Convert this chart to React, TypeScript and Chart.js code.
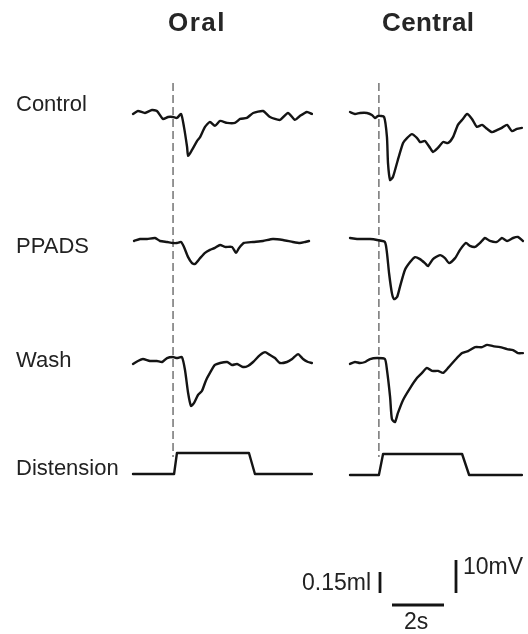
import React, { useEffect, useRef } from "react";
import { Chart, registerables } from "chart.js";

Chart.register(...registerables);

// ---- Data (time in s, potential in mV, volume in ml) ----
const oralControl: [number, number][] = [
  [0, -0.6], [0.19, 0.3], [0.46, -0.3], [0.73, 0.6], [0.92, 0.3], [1.15, -2.1], [1.35, -1.5], [1.54, -1.5],
  [1.69, -1.8], [1.85, -0.6], [1.96, -4.5], [2.08, -10.6], [2.12, -13.3], [2.27, -11.5], [2.46, -8.8],
  [2.58, -7.6], [2.77, -4.5], [2.96, -3.0], [3.15, -4.2], [3.35, -2.7], [3.62, -3.3], [3.92, -3.3],
  [4.12, -2.1], [4.38, -1.8], [4.62, -0.3], [5.0, 0.3], [5.27, -1.5], [5.65, -2.4], [5.96, -0.3],
  [6.23, -2.4], [6.42, -1.2], [6.69, 0], [6.88, -0.6],
];
const centralControl: [number, number][] = [
  [0.04, 0.3], [0.23, -0.3], [0.42, 0], [0.69, 0], [0.88, -0.6], [1.0, -1.5], [1.12, -0.9], [1.35, -1.2],
  [1.46, -7.3], [1.5, -15.2], [1.58, -20.3], [1.69, -19.4], [1.88, -14.2], [2.08, -9.1], [2.23, -7.6],
  [2.42, -6.4], [2.62, -7.6], [2.73, -8.8], [2.92, -8.5], [3.12, -10.6], [3.23, -11.8], [3.42, -10.6],
  [3.62, -8.8], [3.81, -9.1], [4.0, -7.3], [4.19, -3.6], [4.38, -1.8], [4.54, -0.3], [4.73, -1.8],
  [4.92, -4.2], [5.12, -3.6], [5.31, -4.8], [5.5, -5.8], [5.69, -5.2], [5.88, -4.5], [6.08, -3.6],
  [6.27, -5.5], [6.46, -4.8], [6.65, -4.5],
];
const oralPPADS: [number, number][] = [
  [0.04, -0.3], [0.27, 0.3], [0.54, 0.3], [0.85, 0.6], [1.04, -0.3], [1.31, -0.6], [1.54, -0.9], [1.69, -0.9],
  [1.85, -0.6], [1.96, -2.1], [2.12, -5.2], [2.27, -7.0], [2.38, -7.3], [2.58, -5.5], [2.77, -3.9],
  [2.96, -3.0], [3.15, -2.4], [3.35, -1.5], [3.54, -2.1], [3.81, -2.1], [3.96, -3.9], [4.08, -2.4],
  [4.27, -0.9], [4.62, -0.6], [5.0, -0.3], [5.38, 0.3], [5.77, 0], [6.15, -0.6], [6.42, -0.9],
  [6.62, -0.6], [6.77, -0.3],
];
const centralPPADS: [number, number][] = [
  [0.04, 0], [0.31, -0.3], [0.54, -0.3], [0.81, -0.3], [1.08, -0.6], [1.38, -1.2], [1.46, -4.5],
  [1.54, -10.6], [1.65, -16.7], [1.73, -18.5], [1.85, -17.9], [1.96, -14.8], [2.15, -9.7], [2.35, -7.3],
  [2.54, -5.8], [2.73, -6.4], [2.92, -7.6], [3.04, -8.5], [3.23, -6.4], [3.5, -5.2], [3.69, -6.1],
  [3.85, -7.6], [4.08, -6.1], [4.27, -3.6], [4.5, -1.5], [4.65, -2.4], [4.85, -2.7], [5.04, -1.5],
  [5.23, 0], [5.42, -0.9], [5.69, -1.2], [5.88, 0], [6.08, -0.9], [6.31, 0], [6.5, 0.3], [6.69, -0.9],
];
const oralWash: [number, number][] = [
  [0, -0.6], [0.19, 0.3], [0.38, 0.9], [0.65, 0.3], [0.92, 0.3], [1.12, 0], [1.31, 1.2], [1.54, 1.5],
  [1.69, 1.2], [1.88, 1.5], [2.0, -2.4], [2.12, -9.4], [2.23, -13.3], [2.35, -12.4], [2.5, -10.0],
  [2.65, -8.8], [2.81, -5.5], [2.96, -3.3], [3.15, -0.9], [3.35, -0.3], [3.62, 0], [3.81, -0.9],
  [4.0, -0.6], [4.23, -1.5], [4.42, -1.2], [4.62, 0], [4.88, 2.1], [5.08, 3.0], [5.27, 2.1],
  [5.46, 1.2], [5.65, -0.3], [5.92, 0], [6.12, 0.9], [6.35, 2.4], [6.54, 0.9], [6.73, 0], [6.88, -0.3],
];
const centralWash: [number, number][] = [
  [0.04, -0.6], [0.23, 0], [0.42, -0.3], [0.62, 0], [0.81, 0.9], [1.08, 1.2], [1.38, 0.9], [1.46, -2.4],
  [1.58, -10.6], [1.65, -17.3], [1.77, -18.2], [1.88, -15.5], [2.08, -11.5], [2.35, -7.9], [2.62, -4.8],
  [2.81, -3.3], [3.0, -1.8], [3.19, -2.7], [3.42, -2.7], [3.62, -3.3], [3.81, -1.8], [4.08, 0.6],
  [4.35, 2.7], [4.58, 3.3], [4.85, 4.5], [5.12, 4.5], [5.31, 5.2], [5.54, 4.8], [5.81, 4.5],
  [6.08, 3.9], [6.31, 3.6], [6.5, 2.7], [6.69, 2.7],
];
const oralDistension: [number, number][] = [
  [0, 0], [1.58, 0], [1.69, 0.15], [4.46, 0.15], [4.69, 0], [6.88, 0],
];
const centralDistension: [number, number][] = [
  [0.04, 0], [1.15, 0], [1.31, 0.15], [4.35, 0.15], [4.62, 0], [6.65, 0],
];
const stimulusOnset = [1.54, 1.15]; // s, Oral, Central

const columnTitles = ["Oral", "Central"];
const rowLabels = ["Control", "PPADS", "Wash", "Distension"];
const scaleTimeS = 2;
const scaleMV = 10;
const scaleML = 0.15;
const scaleLabels = ["0.15ml", "10mV", "2s"];

// ---- Layout (pixels) ----
const W = 528;
const H = 634;
const PX_PER_S = 26;
const PX_PER_MV = 3.3;
const PX_PER_ML = 140;
const colX0 = [133, 349];
const rowBase = [
  [112, 113],
  [240, 238],
  [362, 362],
  [474, 475],
];

const ink = "#141414";

function traceSet(pts: [number, number][], x0: number, base: number, k: number, tension: number) {
  return {
    data: pts.map(([t, v]) => ({ x: x0 + t * PX_PER_S, y: base - v * k })),
    borderColor: ink,
    borderWidth: 2.4,
    pointRadius: 0,
    showLine: true,
    tension,
    fill: false,
    borderJoinStyle: "round",
    borderCapStyle: "round",
  };
}

export default function App() {
  const ref = useRef<HTMLCanvasElement | null>(null);

  useEffect(() => {
    if (!ref.current) return;
    const traces = [
      [oralControl, centralControl],
      [oralPPADS, centralPPADS],
      [oralWash, centralWash],
    ];
    const datasets: any[] = [];
    traces.forEach((row, r) =>
      row.forEach((pts, c) => datasets.push(traceSet(pts, colX0[c], rowBase[r][c], PX_PER_MV, 0.2)))
    );
    [oralDistension, centralDistension].forEach((pts, c) =>
      datasets.push(traceSet(pts, colX0[c], rowBase[3][c], PX_PER_ML, 0))
    );
    // stimulus onset dashed lines
    stimulusOnset.forEach((t, c) => {
      const x = colX0[c] + t * PX_PER_S;
      datasets.push({
        data: [{ x, y: 83 }, { x, y: 457 }],
        borderColor: "#5e5e5e",
        borderWidth: 1.3,
        borderDash: [8, 4],
        pointRadius: 0,
        showLine: true,
      });
    });
    // scale bars
    const bar = (a: { x: number; y: number }, b: { x: number; y: number }) => ({
      data: [a, b],
      borderColor: ink,
      borderWidth: 2.8,
      pointRadius: 0,
      showLine: true,
    });
    datasets.push(bar({ x: 380, y: 593 }, { x: 380, y: 593 - scaleML * PX_PER_ML }));
    datasets.push(bar({ x: 456, y: 593 }, { x: 456, y: 593 - scaleMV * PX_PER_MV }));
    datasets.push(bar({ x: 392, y: 605 }, { x: 392 + scaleTimeS * PX_PER_S, y: 605 }));

    const chart = new Chart(ref.current, {
      type: "scatter",
      data: { datasets },
      options: {
        animation: false,
        responsive: false,
        maintainAspectRatio: false,
        layout: { padding: 0 },
        plugins: { legend: { display: false }, tooltip: { enabled: false } },
        scales: {
          x: { type: "linear", min: 0, max: W, display: false },
          y: { type: "linear", min: 0, max: H, reverse: true, display: false },
        },
      },
    });
    return () => chart.destroy();
  }, []);

  const font = '"Liberation Sans", Arial, sans-serif';
  const txt = (s: string, left: number, top: number, size: number, extra: any = {}) => (
    <div
      key={s}
      style={{
        position: "absolute",
        left,
        top,
        fontFamily: font,
        fontSize: size,
        color: "#222",
        lineHeight: 1,
        whiteSpace: "nowrap",
        ...extra,
      }}
    >
      {s}
    </div>
  );

  return (
    <div style={{ position: "fixed", left: 0, top: 0, width: W, height: H, background: "#fff" }}>
      <canvas ref={ref} width={W} height={H} style={{ position: "absolute", left: 0, top: 0, width: W, height: H }} />
      {txt(columnTitles[0], 168, 9, 26, { fontWeight: "bold", letterSpacing: 1.5, color: "#262626" })}
      {txt(columnTitles[1], 382, 9, 26, { fontWeight: "bold", letterSpacing: 0.4, color: "#262626" })}
      {txt(rowLabels[0], 16, 93, 22)}
      {txt(rowLabels[1], 16, 235, 22)}
      {txt(rowLabels[2], 16, 349, 22)}
      {txt(rowLabels[3], 16, 457, 22)}
      {txt(scaleLabels[0], 302, 571, 23)}
      {txt(scaleLabels[1], 463, 555, 23)}
      {txt(scaleLabels[2], 404, 610, 23)}
    </div>
  );
}
